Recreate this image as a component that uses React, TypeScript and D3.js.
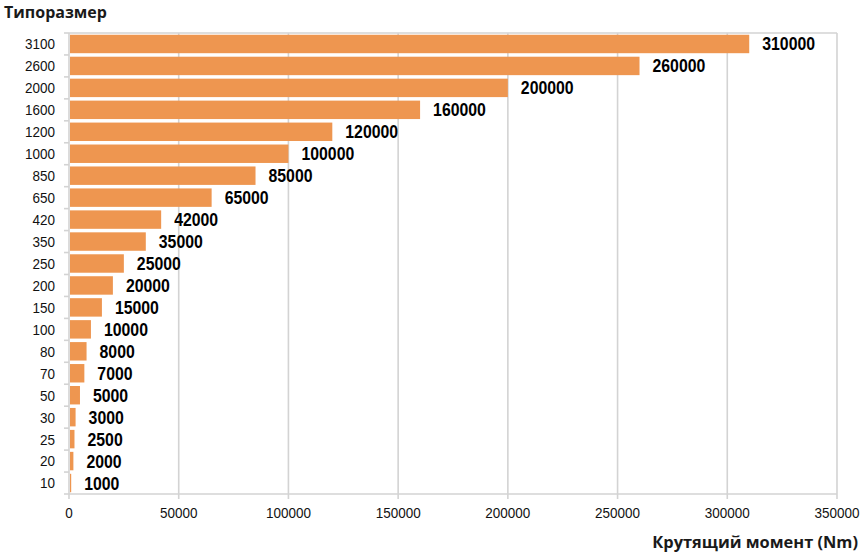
import * as d3 from 'd3';

const sizes = ['3100', '2600', '2000', '1600', '1200', '1000', '850', '650', '420', '350', '250', '200', '150', '100', '80', '70', '50', '30', '25', '20', '10'];
const torques = [310000, 260000, 200000, 160000, 120000, 100000, 85000, 65000, 42000, 35000, 25000, 20000, 15000, 10000, 8000, 7000, 5000, 3000, 2500, 2000, 1000];
const xTicks = [0, 50000, 100000, 150000, 200000, 250000, 300000, 350000];

const W = 867;
const H = 556;
const margin = { top: 33, right: 30, bottom: 62, left: 69 };

const App = () => {
  const x = d3.scaleLinear().domain([0, 350000]).range([margin.left, W - margin.right]);
  const y = d3.scaleBand<string>()
    .domain(sizes)
    .range([margin.top, H - margin.bottom])
    .paddingInner(0.16)
    .paddingOuter(0.08);
  const step = y.step();
  const top = margin.top;
  const bottom = H - margin.bottom;
  const grid = '#d3d3d3';
  const bandEdges = d3.range(sizes.length + 1).map(i => top + i * (bottom - top) / sizes.length);
  const tickFont = "'Liberation Sans', Arial, sans-serif";

  return (
    <svg width={W} height={H} style={{ display: 'block', position: 'absolute', left: 0, top: 0 }}>
      <rect width={W} height={H} fill="#fff" />
      {/* vertical gridlines */}
      {xTicks.map(t => (
        <line key={t} x1={x(t)} x2={x(t)} y1={top} y2={bottom + 5} stroke={grid} strokeWidth={1.6} />
      ))}
      {/* top border & bottom axis */}
      <line x1={x(0)} x2={x(350000)} y1={top} y2={top} stroke={grid} strokeWidth={1.6} />
      <line x1={x(0)} x2={x(350000)} y1={bottom} y2={bottom} stroke={grid} strokeWidth={1.6} />
      {/* left tick marks at band edges */}
      {bandEdges.map((e, i) => (
        <line key={i} x1={x(0) - 5} x2={x(0)} y1={e} y2={e} stroke={grid} strokeWidth={1.6} />
      ))}
      {sizes.map((s, i) => {
        const y0 = y(s)!;
        const ly = top + step * i + step / 2;
        return (
          <g key={s}>
            <rect x={x(0) + 1} y={y0} width={Math.max(1, x(torques[i]) - x(0) - 1)} height={y.bandwidth()} fill="#ee9650" />
            <text transform={`translate(${x(torques[i]) + 13},${y0 + y.bandwidth() / 2}) scale(0.88,1)`} dy="0.36em"
              fontFamily={tickFont} fontWeight="bold" fontSize={18} fill="#000">
              {torques[i]}
            </text>
            <text transform={`translate(55,${ly}) scale(0.9,1)`} dy="0.36em" textAnchor="end"
              fontFamily={tickFont} fontSize={15} fill="#111">
              {s}
            </text>
          </g>
        );
      })}
      {xTicks.map(t => (
        <text key={t} transform={`translate(${x(t)},518) scale(0.9,1)`} textAnchor="middle"
          fontFamily={tickFont} fontSize={15} fill="#111">
          {t}
        </text>
      ))}
      <text x={4} y={18} fontFamily="'Open Sans', sans-serif" fontWeight="bold" fontSize={16} fill="#1a1a1a">Типоразмер</text>
      <text x={858} y={548} textAnchor="end" fontFamily="'Open Sans', sans-serif" fontWeight="bold" fontSize={16.4} fill="#1a1a1a">
        Крутящий момент (Nm)
      </text>
    </svg>
  );
};

export default App;
